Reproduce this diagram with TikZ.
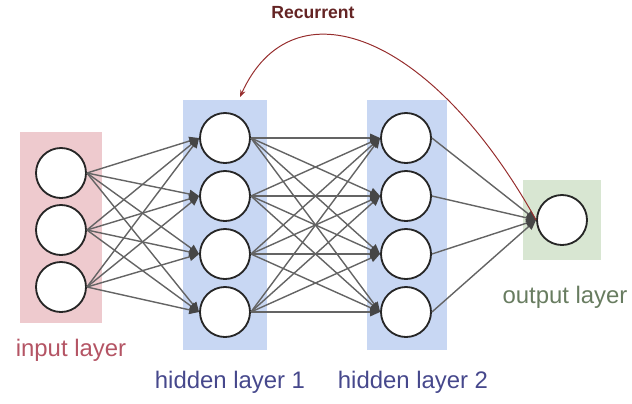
\documentclass[tikz,border=0pt]{standalone}
\usepackage{fontspec}
\setmainfont{Liberation Sans}
\usetikzlibrary{arrows.meta}

\definecolor{inbg}{RGB}{238,202,206}
\definecolor{hidbg}{RGB}{200,215,243}
\definecolor{outbg}{RGB}{216,230,210}
\definecolor{intxt}{RGB}{180,84,100}
\definecolor{hidtxt}{RGB}{70,72,140}
\definecolor{outtxt}{RGB}{104,124,96}
\definecolor{rectxt}{RGB}{100,36,36}
\definecolor{recline}{RGB}{150,45,45}
\definecolor{edgecol}{RGB}{100,100,100}
\definecolor{tipcol}{RGB}{70,70,70}

\tikzset{
  neuron/.style={circle, draw=black!85, line width=1.3pt, fill=white, minimum size=1.25cm, inner sep=0pt},
  synapse/.style={draw=edgecol, line width=1pt, -{Triangle[length=7pt,width=6pt,color=tipcol]}},
  layerlbl/.style={font=\fontsize{17}{20}\selectfont},
}

\begin{document}
\begin{tikzpicture}[x=0.025cm,y=-0.025cm]
\useasboundingbox (0,0) rectangle (632,403);
% layer backgrounds
\fill[inbg] (20,132) rectangle (102,323);
\fill[hidbg] (183,100) rectangle (267,350);
\fill[hidbg] (367,100) rectangle (447,350);
\fill[outbg] (523,180) rectangle (601,260);

\foreach \i/\y in {1/173,2/230,3/287}
  \node[neuron] (in\i) at (61,\y) {};
\foreach \i/\y in {1/138,2/196,3/254,4/312} {
  \node[neuron] (ha\i) at (225,\y) {};
  \node[neuron] (hb\i) at (406,\y) {};
}
\node[neuron] (out) at (562,220) {};
\coordinate (rec) at (240,97);

\foreach \i in {1,2,3} {
  \foreach \j in {1,...,4}
    \draw[synapse] (in\i.east) -- (ha\j.west);
}
\foreach \i in {1,...,4} {
  \foreach \j in {1,...,4}
    \draw[synapse] (ha\i.east) -- (hb\j.west);
  \draw[synapse] (hb\i.east) -- (out.west);
}

\draw[recline, line width=0.7pt, -{Stealth[length=5pt]}] (out.west) .. controls (430,30) and (292,-18) .. (rec);

\node[layerlbl, text=intxt] (inlbl) at (71,350) {input layer};
\node[layerlbl, text=hidtxt] (halbl) at (230,382) {hidden layer 1};
\node[layerlbl, text=hidtxt] (hblbl) at (413,382) {hidden layer 2};
\node[layerlbl, text=outtxt] (outlbl) at (565,297) {output layer};
\node[text=rectxt, font=\bfseries\fontsize{12.5}{14}\selectfont] (reclbl) at (313,13) {Recurrent};

\end{tikzpicture}
\end{document}
